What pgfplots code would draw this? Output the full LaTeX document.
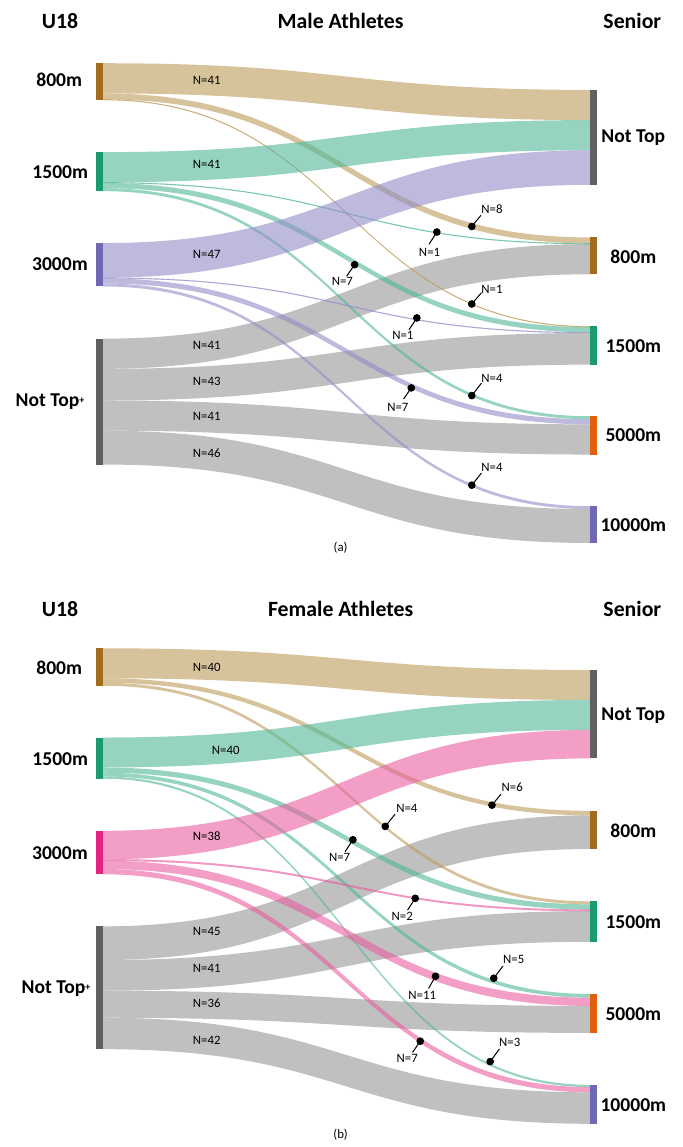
\documentclass[border=0pt]{standalone}
\usepackage{fontspec}
\setmainfont{Carlito}
\usepackage{pgfplots}
\pgfplotsset{compat=1.18}
% band colours (drawn at 60% opacity)
\definecolor{tanB}{HTML}{BC9B58}
\definecolor{tealB}{HTML}{50B798}
\definecolor{purpB}{HTML}{938CC8}
\definecolor{pinkB}{HTML}{E95DA0}
\definecolor{greyB}{HTML}{969696}
% node colours
\definecolor{n800}{HTML}{A26B1E}
\definecolor{n1500}{HTML}{1A9B6E}
\definecolor{n3000a}{HTML}{6F68B3}
\definecolor{n3000b}{HTML}{E3237F}
\definecolor{nNT}{HTML}{606060}
\definecolor{n5000}{HTML}{E0600E}
\definecolor{n10000}{HTML}{6F68B3}
% flow: [extra], colour, left top, right top, N   (thickness = N*\kk)
\newcommand{\flow}[5][]{%
  \pgfmathsetmacro{\ya}{#3+#5*\kk}%
  \pgfmathsetmacro{\yb}{#4+#5*\kk}%
  \edef\doflow{\noexpand\path[fill=#2, fill opacity=0.6, #1] (axis cs:103,#3) .. controls (axis cs:347,#3) and (axis cs:347,#4) .. (axis cs:591,#4) -- (axis cs:591,\yb) .. controls (axis cs:347,\yb) and (axis cs:347,\ya) .. (axis cs:103,\ya) -- cycle;}%
  \doflow}
\tikzset{thin flow/.style={draw=#1, draw opacity=0.6, line width=0.18pt}}
\newcommand{\lbar}[3]{\fill[#1] (axis cs:96,#2) rectangle (axis cs:103,#3);}
\newcommand{\rbar}[3]{\fill[#1] (axis cs:591,#2) rectangle (axis cs:598,#3);}
\newcommand{\nlab}{\fontsize{9.8}{11}\selectfont\bfseries}
\newcommand{\tlab}{\fontsize{10.9}{12}\selectfont\bfseries}
\newcommand{\slab}{\fontsize{6.4}{7}\selectfont}
\newcommand{\ntp}{Not Top\raisebox{0.3ex}{\fontsize{5}{5}\selectfont +}}
\begin{document}
\begin{tikzpicture}
\begin{axis}[scale only axis, width=341.5pt, height=573.5pt,
  xmin=0, xmax=683, ymin=0, ymax=1147, y dir=reverse, hide axis, clip=false]
\path (axis cs:0,0) rectangle (axis cs:683,1147);
% ---------------- (a) Male ----------------
\def\kk{0.737}
\flow{greyB}{339}{244.34}{41}
\flow{greyB}{369.22}{333.34}{43}
\flow{greyB}{400.91}{424.81}{41}
\flow{greyB}{431.13}{509.65}{46}
\flow{tanB}{63.3}{90}{41}
\flow{tanB}{93.52}{237.7}{8}
\flow[thin flow=tanB]{tanB}{99.42}{326.7}{1}
\flow{tealB}{152.3}{120.22}{41}
\flow[thin flow=tealB]{tealB}{182.52}{243.6}{1}
\flow{tealB}{183.26}{327.44}{7}
\flow{tealB}{188.42}{416.7}{4}
\flow{purpB}{243.3}{150.44}{47}
\flow[thin flow=purpB]{purpB}{277.94}{332.6}{1}
\flow{purpB}{278.68}{419.65}{7}
\flow{purpB}{283.84}{506.7}{4}
\lbar{n800}{63.3}{100.16}
\lbar{n1500}{152.3}{191.37}
\lbar{n3000a}{243.3}{286.79}
\lbar{nNT}{339}{465.03}
\rbar{nNT}{90}{185.08}
\rbar{n800}{237.7}{274.56}
\rbar{n1500}{326.7}{365.03}
\rbar{n5000}{416.7}{455.03}
\rbar{n10000}{506.7}{543.55}
% ---------------- (b) Female ----------------
\def\kk{0.75}
\flow{greyB}{927.3}{816.2}{45}
\flow{greyB}{961.05}{912.05}{41}
\flow{greyB}{991.8}{1007}{36}
\flow{greyB}{1018.8}{1093.5}{42}
\flow{tanB}{649}{670.7}{40}
\flow{tanB}{679}{811.7}{6}
\flow{tanB}{683.5}{902.3}{4}
\flow{tealB}{738.3}{700.7}{40}
\flow{tealB}{768.3}{905.3}{7}
\flow{tealB}{773.55}{995}{5}
\flow{tealB}{777.3}{1086}{3}
\flow{pinkB}{831.7}{730.7}{38}
\flow[thin flow=pinkB]{pinkB}{860.2}{910.55}{2}
\flow{pinkB}{861.7}{998.75}{11}
\flow{pinkB}{869.95}{1088.25}{7}
\lbar{n800}{649}{686.5}
\lbar{n1500}{738.3}{779.55}
\lbar{n3000b}{831.7}{875.2}
\lbar{nNT}{927.3}{1050.3}
\rbar{nNT}{670.7}{759.2}
\rbar{n800}{811.7}{849.95}
\rbar{n1500}{902.3}{942.8}
\rbar{n5000}{995}{1034}
\rbar{n10000}{1086}{1125}
% callout dots and leader lines
\addplot[only marks, mark=*, mark size=1.7pt, black] coordinates {
 (472.3,226.7) (437.3,232.3) (355,265) (472.3,304.3) (417.3,318.3)
 (411.7,388.3) (472.3,396) (472.3,485.7)
 (492.5,806) (385.7,827.3) (353.3,840.7) (415.7,899.3) (494.3,979.3)
 (436,977.3) (420.7,1042.3) (490.7,1062.7)};
\addplot[black, line width=0.5pt, unbounded coords=jump] coordinates {
 (472.3,226.7) (481.5,215.5) (nan,nan)
 (437.3,232.3) (429.5,244.5) (nan,nan)
 (355,265) (347,276.5) (nan,nan)
 (472.3,304.3) (482,293) (nan,nan)
 (417.3,318.3) (409.5,330) (nan,nan)
 (411.7,388.3) (404,399.5) (nan,nan)
 (472.3,396) (482,383.5) (nan,nan)
 (472.3,485.7) (482,473.5) (nan,nan)
 (492.5,806) (501.5,795) (nan,nan)
 (385.7,827.3) (395.5,815) (nan,nan)
 (353.3,840.7) (345.5,852.5) (nan,nan)
 (415.7,899.3) (408,911) (nan,nan)
 (494.3,979.3) (503.5,967) (nan,nan)
 (436,977.3) (429,989.5) (nan,nan)
 (420.7,1042.3) (413,1053.5) (nan,nan)
 (490.7,1062.7) (500,1050)};
% ---- texts (a)
\node[font=\tlab] at (axis cs:60,21) {U18};
\node[font=\tlab] at (axis cs:341,21) {Male Athletes};
\node[font=\tlab] at (axis cs:633,21) {Senior};
\node[font=\nlab] at (axis cs:59.3,80) {800m};
\node[font=\nlab] at (axis cs:60.3,172) {1500m};
\node[font=\nlab] at (axis cs:60,264.5) {3000m};
\node[font=\nlab] at (axis cs:50,401.7) {\ntp};
\node[font=\nlab] at (axis cs:634,137.7) {Not Top};
\node[font=\nlab] at (axis cs:634,256.7) {800m};
\node[font=\nlab] at (axis cs:634,346.7) {1500m};
\node[font=\nlab] at (axis cs:634,436) {5000m};
\node[font=\nlab] at (axis cs:634,526) {10000m};
\node[font=\slab] at (axis cs:207,80.5) {N=41};
\node[font=\slab] at (axis cs:207,165) {N=41};
\node[font=\slab] at (axis cs:207,255) {N=47};
\node[font=\slab] at (axis cs:207,345.7) {N=41};
\node[font=\slab] at (axis cs:207,382.3) {N=43};
\node[font=\slab] at (axis cs:207,416.7) {N=41};
\node[font=\slab] at (axis cs:207,454) {N=46};
\node[font=\slab] at (axis cs:492.5,209) {N=8};
\node[font=\slab] at (axis cs:430,252.7) {N=1};
\node[font=\slab] at (axis cs:342.7,281.7) {N=7};
\node[font=\slab] at (axis cs:492.5,289.5) {N=1};
\node[font=\slab] at (axis cs:403.3,335.7) {N=1};
\node[font=\slab] at (axis cs:398.3,407.7) {N=7};
\node[font=\slab] at (axis cs:492.5,378.3) {N=4};
\node[font=\slab] at (axis cs:492.5,468.3) {N=4};
\node[font=\slab] at (axis cs:341,548) {(a)};
% ---- texts (b)
\node[font=\tlab] at (axis cs:60,610) {U18};
\node[font=\tlab] at (axis cs:341,610) {Female Athletes};
\node[font=\tlab] at (axis cs:633,609.3) {Senior};
\node[font=\nlab] at (axis cs:59.3,668.3) {800m};
\node[font=\nlab] at (axis cs:60.3,760) {1500m};
\node[font=\nlab] at (axis cs:60,854) {3000m};
\node[font=\nlab] at (axis cs:56,989.3) {\ntp};
\node[font=\nlab] at (axis cs:634,716.5) {Not Top};
\node[font=\nlab] at (axis cs:634,831.7) {800m};
\node[font=\nlab] at (axis cs:634,923.3) {1500m};
\node[font=\nlab] at (axis cs:634,1015) {5000m};
\node[font=\nlab] at (axis cs:634,1106.7) {10000m};
\node[font=\slab] at (axis cs:207,668.3) {N=40};
\node[font=\slab] at (axis cs:226,750.7) {N=40};
\node[font=\slab] at (axis cs:207,837.3) {N=38};
\node[font=\slab] at (axis cs:207,932.3) {N=45};
\node[font=\slab] at (axis cs:207,969) {N=41};
\node[font=\slab] at (axis cs:207,1004) {N=36};
\node[font=\slab] at (axis cs:207,1041.7) {N=42};
\node[font=\slab] at (axis cs:512.8,788.5) {N=6};
\node[font=\slab] at (axis cs:407.3,809.3) {N=4};
\node[font=\slab] at (axis cs:340,858.3) {N=7};
\node[font=\slab] at (axis cs:402.7,917.7) {N=2};
\node[font=\slab] at (axis cs:514.3,960.7) {N=5};
\node[font=\slab] at (axis cs:422.7,996.7) {N=11};
\node[font=\slab] at (axis cs:407.7,1060) {N=7};
\node[font=\slab] at (axis cs:510.3,1043.3) {N=3};
\node[font=\slab] at (axis cs:341,1136) {(b)};
\end{axis}
\end{tikzpicture}
\end{document}
